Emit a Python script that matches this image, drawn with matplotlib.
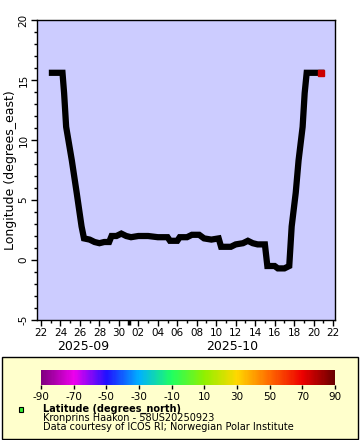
import numpy as np
import matplotlib
matplotlib.use("Agg")
import matplotlib.pyplot as plt
import matplotlib.dates as mdates
from matplotlib.colors import LinearSegmentedColormap, Normalize
from matplotlib.patches import Rectangle
import matplotlib.colorbar as mcolorbar

plt.rcParams["axes.unicode_minus"] = False

# track data
times = ["2025-09-23T03:00", "2025-09-23T14:00", "2025-09-24T05:00",
         "2025-09-24T09:00", "2025-09-24T14:00", "2025-09-25T04:00",
         "2025-09-25T16:00", "2025-09-26T04:00", "2025-09-26T10:00",
         "2025-09-27T00:00", "2025-09-27T12:00", "2025-09-28T00:00",
         "2025-09-28T12:00", "2025-09-29T00:00", "2025-09-29T06:00",
         "2025-09-29T18:00", "2025-09-30T06:00", "2025-09-30T18:00",
         "2025-10-01T06:00", "2025-10-02T00:00", "2025-10-03T00:00",
         "2025-10-04T00:00", "2025-10-05T00:00", "2025-10-05T06:00",
         "2025-10-06T00:00", "2025-10-06T06:00", "2025-10-07T00:00",
         "2025-10-07T12:00", "2025-10-08T06:00", "2025-10-08T18:00",
         "2025-10-09T12:00", "2025-10-10T06:00", "2025-10-10T12:00",
         "2025-10-11T12:00", "2025-10-12T00:00", "2025-10-12T18:00",
         "2025-10-13T06:00", "2025-10-13T18:00", "2025-10-14T06:00",
         "2025-10-15T00:00", "2025-10-15T06:00", "2025-10-16T00:00",
         "2025-10-16T08:00", "2025-10-17T00:00", "2025-10-17T12:00",
         "2025-10-17T18:00", "2025-10-18T04:00", "2025-10-18T11:00",
         "2025-10-18T21:00", "2025-10-19T02:00", "2025-10-19T07:00",
         "2025-10-20T00:00", "2025-10-20T19:00"]
longitude = [15.6, 15.6, 15.6,
             13.9, 11.1, 8.3,
             5.6, 2.8, 1.8,
             1.7, 1.5, 1.4,
             1.5, 1.5, 2.0,
             2.0, 2.2, 2.0,
             1.9, 2.0, 2.0,
             1.9, 1.9, 1.6,
             1.6, 1.9, 1.9,
             2.1, 2.1, 1.8,
             1.7, 1.8, 1.1,
             1.1, 1.3, 1.4,
             1.6, 1.4, 1.3,
             1.3, -0.5, -0.5,
             -0.7, -0.7, -0.5,
             2.8, 5.6, 8.3,
             11.1, 13.9, 15.6,
             15.6, 15.6]

cbar_ticks = [-90, -70, -50, -30, -10, 10, 30, 50, 70, 90]
cbar_colors = ["#7f007f", "#ee00ee", "#2010ff", "#00b0ff", "#20ff60",
               "#90f000", "#ffd800", "#ff6a00", "#ee0000", "#6a0000"]

t = np.array(times, dtype="datetime64[m]").astype("datetime64[s]").astype(object)

fig = plt.figure(figsize=(3.6, 4.4), dpi=100)

# legend box behind everything
fig.patches.append(Rectangle((2/360, 1-439/440), 356/360, 82/440,
                             transform=fig.transFigure, facecolor="#ffffcc",
                             edgecolor="black", lw=1, zorder=-5))

ax = fig.add_axes([37/360, 1-320/440, 298/360, 300/440])
ax.set_facecolor("#ccccff")

ax.plot(t, longitude, color="black", lw=4.5, solid_joinstyle="miter",
        solid_capstyle="projecting")
ax.plot(t[-1], longitude[-1], marker="s", ms=4, color="#cc0000", mec="#cc0000")

x0 = mdates.date2num(np.datetime64("2025-09-22T00:00").astype(object)) - 0.41
x1 = mdates.date2num(np.datetime64("2025-10-22T00:00").astype(object)) + 0.2
ax.set_xlim(x0, x1)
ax.set_ylim(-5, 20)

major = np.arange(np.datetime64("2025-09-22"), np.datetime64("2025-10-23"), 2)
minor = np.arange(np.datetime64("2025-09-22"), np.datetime64("2025-10-23"), 1)
ax.set_xticks(mdates.date2num(major.astype(object)))
ax.set_xticks(mdates.date2num(minor.astype(object)), minor=True)
ax.xaxis.set_major_formatter(mdates.DateFormatter("%d"))
ax.set_yticks([-5, 0, 5, 10, 15, 20])
ax.set_yticks(np.arange(-5, 21, 1), minor=True)
ax.tick_params(which="major", length=4, width=1, labelsize=7.5, pad=2)
ax.tick_params(which="minor", length=2, width=1)
for lab in ax.get_yticklabels():
    lab.set_rotation(90)
    lab.set_va("center")
for s in ax.spines.values():
    s.set_linewidth(1)

# month boundary marker
oct1 = mdates.date2num(np.datetime64("2025-10-01").astype(object))
ax.plot([oct1, oct1], [-5, -5.45], color="black", lw=2.5, clip_on=False,
        solid_capstyle="butt")

ax.set_ylabel("Longitude (degrees_east)", fontsize=9, labelpad=1)

sep_mid = (x0 + oct1) / 2
oct_mid = (oct1 + x1) / 2
ax.text(sep_mid, -7.2, "2025-09", ha="center", va="center", fontsize=9)
ax.text(oct_mid, -7.2, "2025-10", ha="center", va="center", fontsize=9)

cax = fig.add_axes([41/360, 1-385/440, 294/360, 15/440])
cmap = LinearSegmentedColormap.from_list(
    "lat", list(zip(np.linspace(0, 1, len(cbar_colors)), cbar_colors)))
cb = mcolorbar.ColorbarBase(cax, cmap=cmap, norm=Normalize(-90, 90),
                            orientation="horizontal", ticks=cbar_ticks)
cb.outline.set_visible(False)
cax.tick_params(length=3, width=1, labelsize=7.5, pad=2)

fig.patches.append(Rectangle((18.5/360, 1-412/440), 5/360, 5/440,
                             transform=fig.transFigure, facecolor="#33ee33",
                             edgecolor="black", lw=0.8))
fig.text(43/360, 1-409/440, "Latitude (degrees_north)", fontsize=7,
         fontweight="bold", va="center")
fig.text(43/360, 1-418/440, "Kronprins Haakon - 58US20250923", fontsize=7,
         va="center")
fig.text(43/360, 1-427/440, "Data courtesy of ICOS RI; Norwegian Polar Institute",
         fontsize=7, va="center")

fig.savefig("out.png", dpi=100)
